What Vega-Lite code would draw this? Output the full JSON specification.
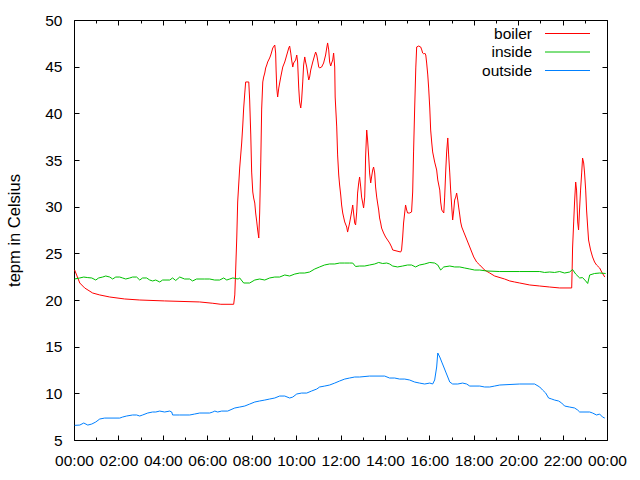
{
"$schema": "https://vega.github.io/schema/vega-lite/v6.json",
"width": 533, "height": 420,
"autosize": {"type": "none"},
"padding": {"left": 74, "top": 20, "right": 33, "bottom": 40},
"background": "white",
"config": {
  "font": "Liberation Sans",
  "view": {"stroke": "#000000", "strokeWidth": 1},
  "axis": {"grid": false, "domain": false, "tickColor": "#000000", "tickWidth": 1, "labelColor": "#000000", "labelFontSize": 15.5, "labelFont": "Liberation Sans", "titleFont": "Liberation Sans", "titleFontSize": 16.5, "titleFontWeight": "normal", "titleColor": "#000000", "labelOverlap": false, "labelBound": false, "labelFlush": false}
},
"datasets": {
"boiler": [
{"h":0.03,"v":23.21},{"h":0.26,"v":21.82},{"h":0.48,"v":21.29},{"h":0.84,"v":20.75},{"h":1.16,"v":20.54},{"h":1.61,"v":20.32},{"h":2.28,"v":20.11},{"h":2.96,"v":20.0},{"h":4.08,"v":19.9},{"h":5.66,"v":19.79},{"h":6.25,"v":19.65},{"h":6.61,"v":19.54},{"h":7.19,"v":19.54},{"h":7.24,"v":20.54},{"h":7.28,"v":23.21},{"h":7.33,"v":26.75},{"h":7.37,"v":30.5},{"h":7.46,"v":34.14},{"h":7.55,"v":36.82},{"h":7.6,"v":38.75},{"h":7.64,"v":40.57},{"h":7.69,"v":42.18},{"h":7.73,"v":43.36},{"h":7.87,"v":43.36},{"h":7.91,"v":41.43},{"h":7.96,"v":37.68},{"h":8.0,"v":33.71},{"h":8.05,"v":31.57},{"h":8.09,"v":30.93},{"h":8.14,"v":30.39},{"h":8.18,"v":29.32},{"h":8.23,"v":28.36},{"h":8.27,"v":27.5},{"h":8.32,"v":26.64},{"h":8.36,"v":29.32},{"h":8.41,"v":34.78},{"h":8.45,"v":40.46},{"h":8.5,"v":43.36},{"h":8.54,"v":43.89},{"h":8.59,"v":44.32},{"h":8.63,"v":44.86},{"h":8.68,"v":45.18},{"h":8.72,"v":45.5},{"h":8.81,"v":45.93},{"h":8.86,"v":46.25},{"h":8.9,"v":46.57},{"h":8.95,"v":47.0},{"h":9.04,"v":47.32},{"h":9.08,"v":46.46},{"h":9.1,"v":44.64},{"h":9.13,"v":42.71},{"h":9.17,"v":41.75},{"h":9.22,"v":42.71},{"h":9.31,"v":43.89},{"h":9.4,"v":44.96},{"h":9.49,"v":45.5},{"h":9.58,"v":46.25},{"h":9.67,"v":47.0},{"h":9.71,"v":47.21},{"h":9.76,"v":46.46},{"h":9.8,"v":45.71},{"h":9.85,"v":44.96},{"h":9.89,"v":45.39},{"h":9.98,"v":45.71},{"h":10.03,"v":46.25},{"h":10.07,"v":45.5},{"h":10.12,"v":42.71},{"h":10.16,"v":41.21},{"h":10.21,"v":40.57},{"h":10.25,"v":41.43},{"h":10.3,"v":43.36},{"h":10.34,"v":45.18},{"h":10.39,"v":46.04},{"h":10.43,"v":45.5},{"h":10.48,"v":44.96},{"h":10.52,"v":44.32},{"h":10.57,"v":43.57},{"h":10.61,"v":43.89},{"h":10.66,"v":44.64},{"h":10.75,"v":45.5},{"h":10.84,"v":46.25},{"h":10.88,"v":46.57},{"h":10.93,"v":46.25},{"h":10.97,"v":45.71},{"h":11.02,"v":44.96},{"h":11.06,"v":44.86},{"h":11.15,"v":44.96},{"h":11.24,"v":45.39},{"h":11.33,"v":46.25},{"h":11.38,"v":47.0},{"h":11.42,"v":47.54},{"h":11.47,"v":46.79},{"h":11.51,"v":45.5},{"h":11.56,"v":45.07},{"h":11.6,"v":45.39},{"h":11.65,"v":45.71},{"h":11.69,"v":46.46},{"h":11.74,"v":44.96},{"h":11.76,"v":41.75},{"h":11.83,"v":38.54},{"h":11.87,"v":35.54},{"h":11.92,"v":33.39},{"h":11.96,"v":32.32},{"h":12.01,"v":31.25},{"h":12.05,"v":30.18},{"h":12.1,"v":29.32},{"h":12.14,"v":28.89},{"h":12.19,"v":28.36},{"h":12.28,"v":27.82},{"h":12.32,"v":27.28},{"h":12.41,"v":28.25},{"h":12.5,"v":29.43},{"h":12.55,"v":30.18},{"h":12.59,"v":29.32},{"h":12.64,"v":28.25},{"h":12.68,"v":28.04},{"h":12.73,"v":29.43},{"h":12.77,"v":31.46},{"h":12.82,"v":32.54},{"h":12.86,"v":33.18},{"h":12.91,"v":32.11},{"h":12.95,"v":31.03},{"h":13.0,"v":30.39},{"h":13.04,"v":29.86},{"h":13.09,"v":31.03},{"h":13.11,"v":32.86},{"h":13.13,"v":35.32},{"h":13.18,"v":38.21},{"h":13.22,"v":37.14},{"h":13.27,"v":35.32},{"h":13.31,"v":33.61},{"h":13.36,"v":32.54},{"h":13.4,"v":33.18},{"h":13.45,"v":33.93},{"h":13.49,"v":34.25},{"h":13.54,"v":33.61},{"h":13.58,"v":32.11},{"h":13.63,"v":31.03},{"h":13.67,"v":30.39},{"h":13.72,"v":29.64},{"h":13.76,"v":28.79},{"h":13.81,"v":28.25},{"h":13.85,"v":27.71},{"h":13.94,"v":27.18},{"h":14.03,"v":26.75},{"h":14.12,"v":26.43},{"h":14.21,"v":26.11},{"h":14.3,"v":25.68},{"h":14.35,"v":25.36},{"h":14.71,"v":25.14},{"h":14.75,"v":25.36},{"h":14.8,"v":26.75},{"h":14.84,"v":28.25},{"h":14.89,"v":29.32},{"h":14.93,"v":30.18},{"h":14.98,"v":29.64},{"h":15.02,"v":29.32},{"h":15.11,"v":29.32},{"h":15.2,"v":29.43},{"h":15.25,"v":31.57},{"h":15.29,"v":35.86},{"h":15.34,"v":40.57},{"h":15.39,"v":44.86},{"h":15.43,"v":47.11},{"h":15.52,"v":47.21},{"h":15.61,"v":47.11},{"h":15.66,"v":46.79},{"h":15.7,"v":46.46},{"h":15.75,"v":46.36},{"h":15.79,"v":46.46},{"h":15.84,"v":46.25},{"h":15.88,"v":45.39},{"h":15.93,"v":44.11},{"h":15.97,"v":42.71},{"h":16.02,"v":40.57},{"h":16.06,"v":38.21},{"h":16.11,"v":36.82},{"h":16.15,"v":35.86},{"h":16.24,"v":34.78},{"h":16.33,"v":33.93},{"h":16.38,"v":32.86},{"h":16.47,"v":31.78},{"h":16.51,"v":30.5},{"h":16.56,"v":29.64},{"h":16.65,"v":29.32},{"h":16.69,"v":31.03},{"h":16.74,"v":33.93},{"h":16.78,"v":35.86},{"h":16.83,"v":37.36},{"h":16.87,"v":35.54},{"h":16.92,"v":33.61},{"h":16.96,"v":31.78},{"h":17.01,"v":29.96},{"h":17.05,"v":28.57},{"h":17.1,"v":29.64},{"h":17.14,"v":30.71},{"h":17.19,"v":31.03},{"h":17.23,"v":31.46},{"h":17.28,"v":30.71},{"h":17.32,"v":29.96},{"h":17.37,"v":29.11},{"h":17.41,"v":28.36},{"h":17.46,"v":27.82},{"h":17.55,"v":27.28},{"h":17.64,"v":26.75},{"h":17.73,"v":26.21},{"h":17.82,"v":25.68},{"h":17.91,"v":25.14},{"h":18.0,"v":24.61},{"h":18.13,"v":24.07},{"h":18.27,"v":23.75},{"h":18.49,"v":23.21},{"h":18.72,"v":22.89},{"h":18.94,"v":22.57},{"h":19.39,"v":22.25},{"h":19.62,"v":22.04},{"h":19.84,"v":21.93},{"h":20.07,"v":21.82},{"h":20.52,"v":21.61},{"h":20.97,"v":21.5},{"h":21.42,"v":21.39},{"h":21.87,"v":21.29},{"h":22.41,"v":21.29},{"h":22.43,"v":23.21},{"h":22.45,"v":25.57},{"h":22.5,"v":28.36},{"h":22.54,"v":30.5},{"h":22.59,"v":32.64},{"h":22.63,"v":31.78},{"h":22.68,"v":28.36},{"h":22.72,"v":27.5},{"h":22.77,"v":29.96},{"h":22.81,"v":31.78},{"h":22.86,"v":33.61},{"h":22.9,"v":35.21},{"h":22.95,"v":34.68},{"h":22.99,"v":33.61},{"h":23.04,"v":31.78},{"h":23.08,"v":29.64},{"h":23.13,"v":27.82},{"h":23.17,"v":26.43},{"h":23.26,"v":25.36},{"h":23.35,"v":24.61},{"h":23.44,"v":24.07},{"h":23.53,"v":23.75},{"h":23.67,"v":23.43},{"h":23.76,"v":23.0},{"h":23.9,"v":22.46}
],
"inside": [
{"h":0.03,"v":22.25},{"h":0.26,"v":22.36},{"h":0.44,"v":22.46},{"h":0.62,"v":22.4},{"h":0.8,"v":22.36},{"h":0.98,"v":22.14},{"h":1.11,"v":22.36},{"h":1.29,"v":22.46},{"h":1.43,"v":22.57},{"h":1.61,"v":22.46},{"h":1.74,"v":22.25},{"h":1.88,"v":22.46},{"h":2.06,"v":22.46},{"h":2.19,"v":22.36},{"h":2.33,"v":22.25},{"h":2.51,"v":22.36},{"h":2.64,"v":22.46},{"h":2.82,"v":22.46},{"h":2.96,"v":22.14},{"h":3.09,"v":22.36},{"h":3.27,"v":22.36},{"h":3.41,"v":22.14},{"h":3.54,"v":22.04},{"h":3.68,"v":22.14},{"h":3.86,"v":21.93},{"h":3.99,"v":22.14},{"h":4.31,"v":22.14},{"h":4.44,"v":22.36},{"h":4.58,"v":22.09},{"h":4.76,"v":22.46},{"h":4.98,"v":22.25},{"h":5.21,"v":22.25},{"h":5.34,"v":22.04},{"h":5.52,"v":22.25},{"h":5.88,"v":22.25},{"h":6.11,"v":22.25},{"h":6.33,"v":22.14},{"h":6.56,"v":22.14},{"h":6.74,"v":22.36},{"h":6.88,"v":22.14},{"h":7.01,"v":22.25},{"h":7.15,"v":22.36},{"h":7.39,"v":22.25},{"h":7.46,"v":22.36},{"h":7.64,"v":21.82},{"h":7.91,"v":21.82},{"h":8.14,"v":22.14},{"h":8.36,"v":22.25},{"h":8.59,"v":22.14},{"h":8.81,"v":22.36},{"h":9.04,"v":22.46},{"h":9.26,"v":22.46},{"h":9.49,"v":22.68},{"h":9.71,"v":22.57},{"h":9.94,"v":22.78},{"h":10.16,"v":22.89},{"h":10.39,"v":22.89},{"h":10.61,"v":23.0},{"h":10.84,"v":23.32},{"h":11.06,"v":23.54},{"h":11.28,"v":23.75},{"h":11.51,"v":23.86},{"h":11.74,"v":23.86},{"h":11.96,"v":23.96},{"h":12.19,"v":23.96},{"h":12.41,"v":23.96},{"h":12.55,"v":23.96},{"h":12.68,"v":23.59},{"h":12.86,"v":23.64},{"h":13.09,"v":23.64},{"h":13.31,"v":23.75},{"h":13.54,"v":23.86},{"h":13.72,"v":24.02},{"h":13.9,"v":23.91},{"h":14.08,"v":23.96},{"h":14.21,"v":23.86},{"h":14.35,"v":23.64},{"h":14.57,"v":23.54},{"h":14.8,"v":23.64},{"h":15.02,"v":23.75},{"h":15.2,"v":23.75},{"h":15.38,"v":23.54},{"h":15.56,"v":23.75},{"h":15.79,"v":23.86},{"h":16.02,"v":24.02},{"h":16.24,"v":23.96},{"h":16.38,"v":23.75},{"h":16.51,"v":23.21},{"h":16.65,"v":23.54},{"h":16.92,"v":23.64},{"h":17.14,"v":23.54},{"h":17.37,"v":23.54},{"h":17.59,"v":23.43},{"h":17.82,"v":23.32},{"h":18.04,"v":23.21},{"h":18.27,"v":23.21},{"h":18.58,"v":23.11},{"h":19.17,"v":23.05},{"h":20.07,"v":23.05},{"h":20.97,"v":23.05},{"h":21.19,"v":22.95},{"h":21.42,"v":23.0},{"h":21.64,"v":22.95},{"h":21.87,"v":23.05},{"h":22.09,"v":22.89},{"h":22.32,"v":23.0},{"h":22.45,"v":23.27},{"h":22.59,"v":22.78},{"h":22.77,"v":22.36},{"h":22.9,"v":22.4},{"h":23.04,"v":22.04},{"h":23.13,"v":21.77},{"h":23.22,"v":22.68},{"h":23.44,"v":22.84},{"h":23.67,"v":22.89},{"h":23.94,"v":22.84}
],
"outside": [
{"h":0.03,"v":6.57},{"h":0.26,"v":6.6},{"h":0.44,"v":6.82},{"h":0.62,"v":6.6},{"h":0.8,"v":6.71},{"h":0.98,"v":6.93},{"h":1.16,"v":7.25},{"h":1.38,"v":7.35},{"h":2.06,"v":7.35},{"h":2.19,"v":7.46},{"h":2.37,"v":7.57},{"h":2.64,"v":7.68},{"h":2.82,"v":7.68},{"h":2.96,"v":7.57},{"h":3.09,"v":7.68},{"h":3.32,"v":7.89},{"h":3.54,"v":8.0},{"h":3.68,"v":8.0},{"h":3.86,"v":8.1},{"h":4.08,"v":8.0},{"h":4.31,"v":8.1},{"h":4.4,"v":8.0},{"h":4.44,"v":7.68},{"h":4.76,"v":7.68},{"h":5.21,"v":7.68},{"h":5.43,"v":7.78},{"h":5.66,"v":7.89},{"h":6.11,"v":7.89},{"h":6.25,"v":8.0},{"h":6.34,"v":8.1},{"h":6.47,"v":8.0},{"h":6.65,"v":8.1},{"h":6.92,"v":8.1},{"h":7.24,"v":8.43},{"h":7.46,"v":8.53},{"h":7.69,"v":8.64},{"h":7.91,"v":8.85},{"h":8.14,"v":9.07},{"h":8.36,"v":9.18},{"h":8.59,"v":9.28},{"h":8.81,"v":9.39},{"h":9.04,"v":9.5},{"h":9.26,"v":9.71},{"h":9.49,"v":9.71},{"h":9.71,"v":9.5},{"h":9.85,"v":9.6},{"h":10.03,"v":9.93},{"h":10.25,"v":10.03},{"h":10.48,"v":10.03},{"h":10.7,"v":10.25},{"h":10.93,"v":10.46},{"h":11.06,"v":10.68},{"h":11.29,"v":10.78},{"h":11.51,"v":10.89},{"h":11.74,"v":11.1},{"h":11.96,"v":11.32},{"h":12.19,"v":11.53},{"h":12.41,"v":11.64},{"h":12.64,"v":11.75},{"h":12.86,"v":11.75},{"h":13.31,"v":11.85},{"h":13.99,"v":11.85},{"h":14.21,"v":11.64},{"h":14.44,"v":11.64},{"h":14.66,"v":11.53},{"h":14.89,"v":11.53},{"h":15.11,"v":11.43},{"h":15.34,"v":11.21},{"h":15.56,"v":11.1},{"h":15.79,"v":11.0},{"h":16.02,"v":11.1},{"h":16.15,"v":11.0},{"h":16.24,"v":11.43},{"h":16.33,"v":12.82},{"h":16.38,"v":14.32},{"h":16.47,"v":13.89},{"h":16.56,"v":13.35},{"h":16.65,"v":12.82},{"h":16.74,"v":12.28},{"h":16.83,"v":11.75},{"h":16.92,"v":11.21},{"h":17.05,"v":11.0},{"h":17.28,"v":11.0},{"h":17.5,"v":11.1},{"h":17.68,"v":11.0},{"h":17.82,"v":10.78},{"h":18.27,"v":10.78},{"h":18.49,"v":10.68},{"h":18.72,"v":10.68},{"h":18.94,"v":10.78},{"h":19.17,"v":10.89},{"h":20.07,"v":11.0},{"h":20.74,"v":11.0},{"h":20.97,"v":10.68},{"h":21.1,"v":10.35},{"h":21.24,"v":10.03},{"h":21.37,"v":9.5},{"h":21.51,"v":9.39},{"h":21.64,"v":9.28},{"h":21.82,"v":9.18},{"h":21.96,"v":8.96},{"h":22.09,"v":8.64},{"h":22.32,"v":8.53},{"h":22.54,"v":8.43},{"h":22.68,"v":8.21},{"h":22.77,"v":8.0},{"h":23.22,"v":8.0},{"h":23.35,"v":7.89},{"h":23.53,"v":7.68},{"h":23.67,"v":7.78},{"h":23.8,"v":7.46},{"h":23.9,"v":7.35}
]
},
"layer": [
{
  "data": {"name": "boiler"},
  "mark": {"type": "line", "strokeWidth": 1},
  "encoding": {
    "x": {"field": "h", "type": "quantitative", "scale": {"domain": [0, 24], "nice": false, "zero": false},
      "axis": {"orient": "bottom", "title": null, "values": [0,1,2,3,4,5,6,7,8,9,10,11,12,13,14,15,16,17,18,19,20,21,22,23,24],
        "labelExpr": "datum.value % 2 ? '' : ((datum.value % 24) < 10 ? '0' : '') + (datum.value % 24) + ':00'",
        "tickSize": {"condition": {"test": "datum.value % 2 == 0", "value": -5}, "value": -3},
        "labelPadding": 18}},
    "y": {"field": "v", "type": "quantitative", "scale": {"domain": [5, 50], "nice": false, "zero": false},
      "axis": {"orient": "left", "title": "tepm in Celsius", "values": [5,10,15,20,25,30,35,40,45,50], "tickSize": -5, "labelPadding": 17, "titlePadding": 22}},
    "color": {"datum": "boiler", "type": "nominal",
      "scale": {"domain": ["boiler", "inside", "outside"], "range": ["#ff0000", "#00c000", "#0080ff"]},
      "legend": {"orient": "none", "legendX": 484, "legendY": 4, "title": null, "symbolType": "M-2.5,0H2.5", "symbolSize": 324, "symbolStrokeWidth": 1, "symbolFillColor": "transparent", "labelAlign": "right", "labelOffset": -45, "labelFontSize": 15.5, "labelColor": "#000000", "labelFont": "Liberation Sans", "rowPadding": 0.5, "padding": 0,
        "encode": {"symbols": {"update": {"stroke": {"scale": "color", "field": "value"}, "fill": {"value": "transparent"}, "strokeWidth": {"value": 1}, "opacity": {"value": 1}}}}}}
  }
},
{
  "data": {"name": "inside"},
  "mark": {"type": "line", "strokeWidth": 1},
  "encoding": {
    "x": {"field": "h", "type": "quantitative",
      "axis": {"orient": "top", "title": null, "labels": false, "values": [0,1,2,3,4,5,6,7,8,9,10,11,12,13,14,15,16,17,18,19,20,21,22,23,24],
        "tickSize": {"condition": {"test": "datum.value % 2 == 0", "value": -5}, "value": -3}}},
    "y": {"field": "v", "type": "quantitative",
      "axis": {"orient": "right", "title": null, "labels": false, "values": [5,10,15,20,25,30,35,40,45,50], "tickSize": -5}},
    "color": {"datum": "inside", "type": "nominal"}
  }
},
{
  "data": {"name": "outside"},
  "mark": {"type": "line", "strokeWidth": 1},
  "encoding": {
    "x": {"field": "h", "type": "quantitative", "axis": null},
    "y": {"field": "v", "type": "quantitative", "axis": null},
    "color": {"datum": "outside", "type": "nominal"}
  }
}
],
"resolve": {"axis": {"x": "independent", "y": "independent"}}
}
